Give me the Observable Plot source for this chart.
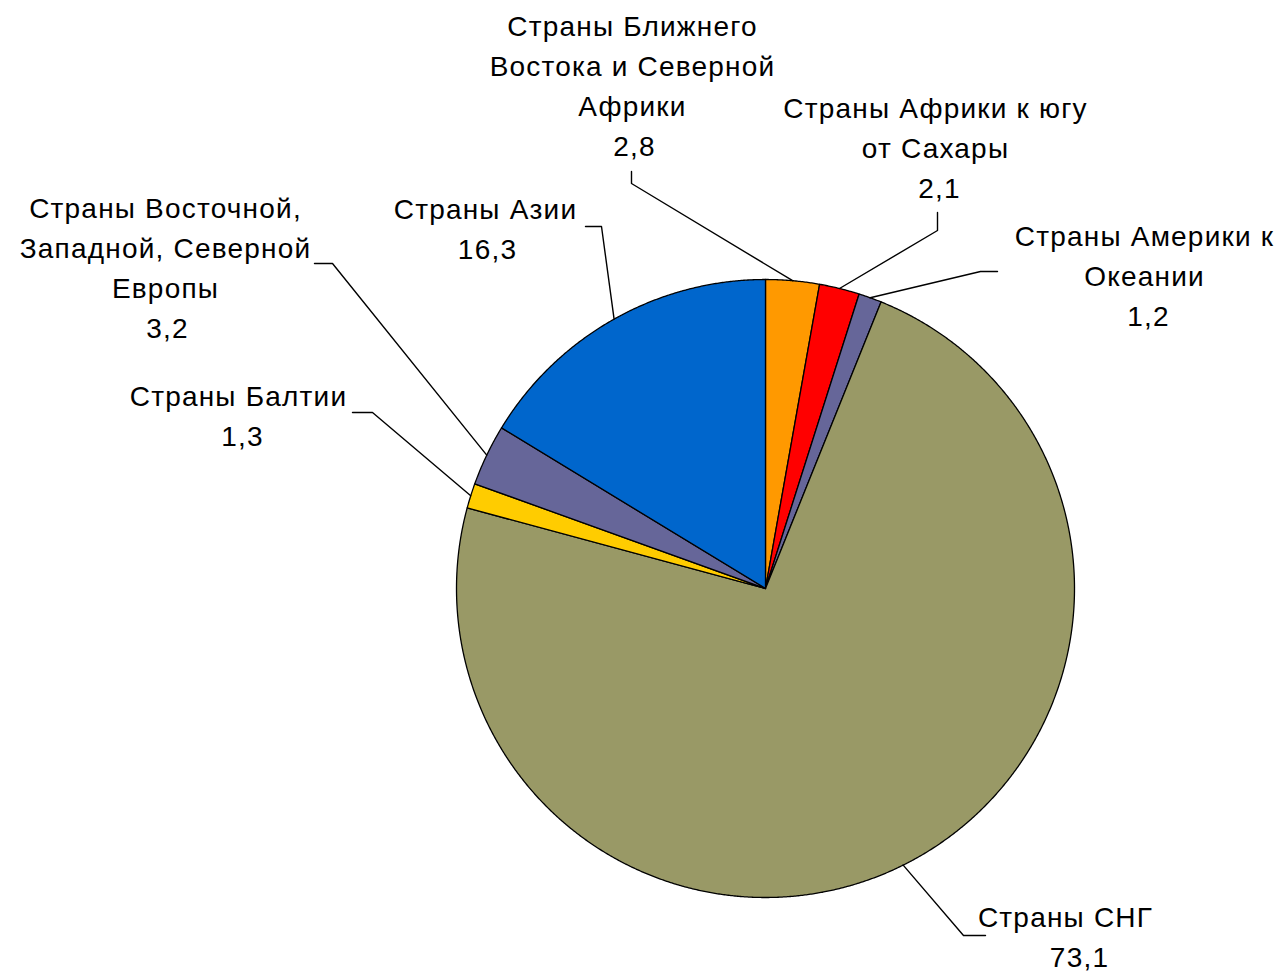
<!DOCTYPE html>
<html>
<head>
<meta charset="utf-8">
<script src="https://cdn.jsdelivr.net/npm/d3@7"></script>
<script src="https://cdn.jsdelivr.net/npm/@observablehq/plot@0.6"></script>
<style>
  html, body { margin: 0; padding: 0; background: #fff; }
  svg { display: block; }
  svg text { letter-spacing: 1.2px; }
</style>
</head>
<body>
<div id="chart"></div>
<script>
// ---- data ----
const names = [
  "Страны Ближнего Востока и Северной Африки",
  "Страны Африки к югу от Сахары",
  "Страны Америки и Океании",
  "Страны СНГ",
  "Страны Балтии",
  "Страны Восточной, Западной, Северной Европы",
  "Страны Азии"
];
const values = [2.8, 2.1, 1.2, 73.1, 1.3, 3.2, 16.3];
const valueLabels = ["2,8", "2,1", "1,2", "73,1", "1,3", "3,2", "16,3"];
const labelTexts = [
  "Страны Ближнего\nВостока и Северной\nАфрики",
  "Страны Африки к югу\nот Сахары",
  "Страны Америки к\nОкеании",
  "Страны СНГ",
  "Страны Балтии",
  "Страны Восточной,\nЗападной, Северной\nЕвропы",
  "Страны Азии"
];
const colors = ["#FF9900", "#FF0000", "#666699", "#999966", "#FFCC00", "#666699", "#0066CC"];

// ---- layout (pixels) ----
const W = 1283, H = 973;
const cx = 765, cy = 588, R = 309;
const FS = 28, LH = 40; // font size, line step in px
// name block: x centre, y of first line's centre; value label: x centre
const labelPos = [
  {x: 632, y: 27, vx: 634},
  {x: 935, y: 109, vx: 939},
  {x: 1144, y: 237, vx: 1148},
  {x: 1065, y: 918, vx: 1079},
  {x: 238, y: 397, vx: 242},
  {x: 165, y: 209, vx: 167},
  {x: 485, y: 210, vx: 487}
];
const leaderPts = [
  [[631, 183], [631, 171]],
  [[937, 230], [937, 212]],
  [[980, 271], [997, 271]],
  [[963, 935], [985, 935]],
  [[372, 412], [352, 412]],
  [[332, 263], [314, 263]],
  [[601, 226], [585, 226]]
];

// ---- pie geometry ----
const arcs = d3.pie().sort(null).value(d => d)(values);
const slicePts = [];
arcs.forEach((a, i) => {
  const name = names[i];
  slicePts.push({name, i, x: cx, y: cy});
  const span = a.endAngle - a.startAngle;
  const n = Math.max(2, Math.ceil(span / (Math.PI / 720)));
  for (let k = 0; k <= n; k++) {
    const t = a.startAngle + span * k / n;
    slicePts.push({name, i, x: cx + R * Math.sin(t), y: cy - R * Math.cos(t)});
  }
});

const leaders = [];
arcs.forEach((a, i) => {
  const m = (a.startAngle + a.endAngle) / 2;
  leaders.push({i, x: cx + R * Math.sin(m), y: cy - R * Math.cos(m)});
  leaderPts[i].forEach(([x, y]) => leaders.push({i, x, y}));
});

const nameLines = [];
const valueRows = [];
names.forEach((n, i) => {
  const lines = labelTexts[i].split("\n");
  lines.forEach((t, k) => nameLines.push({text: t, x: labelPos[i].x, y: labelPos[i].y + k * LH}));
  valueRows.push({text: valueLabels[i], x: labelPos[i].vx, y: labelPos[i].y + lines.length * LH});
});

const chart = Plot.plot({
  width: W,
  height: H,
  margin: 0,
  x: {domain: [0, W], range: [0, W], axis: null},
  y: {domain: [0, H], range: [0, H], axis: null},
  color: {domain: names, range: colors},
  style: {background: "#fff", fontFamily: "'Liberation Sans', Arial, sans-serif"},
  marks: [
    Plot.line(slicePts, {
      x: "x", y: "y", z: "name", fill: "name",
      stroke: "#000", strokeWidth: 1.3, curve: "linear-closed", strokeLinejoin: "round"
    }),
    Plot.line(leaders, {x: "x", y: "y", z: "i", stroke: "#000", strokeWidth: 1.4}),
    Plot.text(nameLines, {
      x: "x", y: "y", text: "text",
      fontSize: FS, lineAnchor: "middle", textAnchor: "middle", fill: "#000"
    }),
    Plot.text(valueRows, {
      x: "x", y: "y", text: "text",
      fontSize: FS, lineAnchor: "middle", textAnchor: "middle", fill: "#000"
    })
  ]
});
document.getElementById("chart").appendChild(chart);
</script>
</body>
</html>
